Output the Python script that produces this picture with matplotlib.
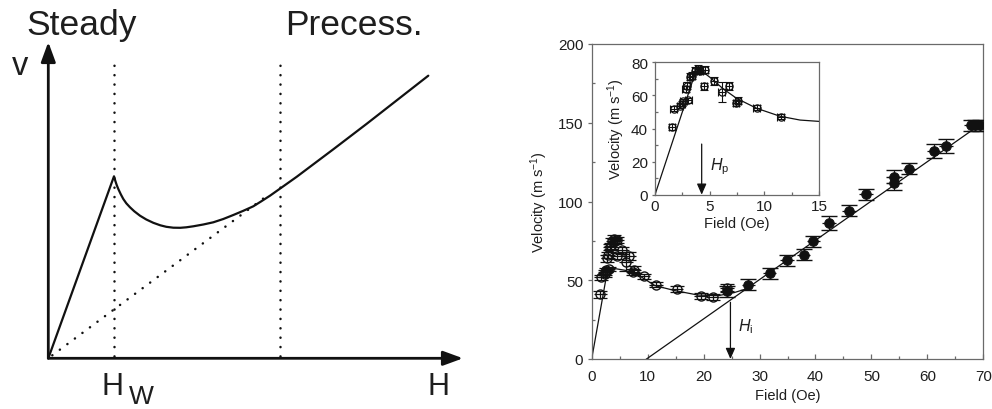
import matplotlib
matplotlib.use('Agg')
import matplotlib.pyplot as plt
from matplotlib.ticker import MultipleLocator

plt.rcParams['font.family'] = ['Liberation Sans', 'DejaVu Sans']
plt.rcParams['mathtext.fontset'] = 'custom'
plt.rcParams['mathtext.rm'] = 'Liberation Sans'
plt.rcParams['mathtext.it'] = 'Liberation Sans:italic'

# ---------------- data ----------------
# Left schematic: v(H) curve (arbitrary units)
schem_H = [0, 65.7, 67, 68.5, 70, 72.5, 75, 78, 81.7, 86, 91.7, 98, 105, 112, 118,
           125, 132, 138, 145, 155, 165, 175, 185, 195, 205, 213, 221.7, 235,
           248.4, 261.7, 285, 318.4, 351.7, 380]
schem_v = [0, 182, 177.5, 173, 169.3, 164, 159.3, 155, 151, 147.0, 142.6, 138.8, 135.5,
           133, 131.5, 130.6, 130.5, 131, 132, 133.8, 136, 139.3, 143.3, 147.5, 152,
           157, 162.6, 172, 181.5, 191.5, 209, 234.5, 260.5, 282.6]
schem_lin_H = [4, 222]          # dotted asymptote
schem_lin_v = [3, 165]
schem_Hw = 65.3                 # dotted guide at H_W
schem_Hp = 232                  # dotted guide at precession onset
schem_guide_v = [2, 297]

# Main panel: filled circles (precessional regime)
fill_x = [24.2, 28.0, 31.8, 34.9, 37.9, 39.6, 42.4, 46.0, 49.0, 54.0, 54.1,
          56.8, 61.1, 63.3, 67.8, 68.6, 69.4]
fill_y = [43.1, 47.3, 54.5, 62.7, 66.2, 74.7, 86.6, 94.2, 104.7, 111.5, 115.7,
          120.9, 132.0, 135.2, 148.5, 148.5, 148.5]
fill_yerr = [3.5, 3.5, 3.5, 3.5, 3.5, 3.5, 4.5, 3.5, 3.5, 4.0, 4.0,
             3.5, 4.5, 4.5, 3.5, 3.5, 3.5]

# Open circles (low field); the first 22 also appear in the inset
open_x = [1.55, 1.7, 2.3, 2.45, 2.6, 2.8, 2.9, 3.05, 3.2, 3.4, 3.7, 3.95, 4.1,
          4.55, 4.5, 5.4, 6.1, 6.75, 7.4, 7.6, 9.3, 11.5, 15.2, 19.5, 21.6, 24.2]
open_y = [41.0, 51.8, 53.8, 55.0, 56.5, 63.9, 65.9, 57.2, 71.3, 71.9, 74.9, 76.0, 75.0,
          75.5, 65.5, 68.9, 61.9, 65.5, 55.4, 56.8, 52.4, 47.1, 44.6, 40.0, 39.5, 45.2]
open_yerr = [2, 1.5, 1.5, 1.5, 1.5, 2, 2, 1.5, 2, 2, 2, 2.5, 2,
             2, 2, 2.5, 6, 2.5, 2, 2, 1.5, 1.5, 2, 2, 2, 2.5]
n_inset = 22
open_xerr_main = 1.2
open_xerr_inset = 0.3

# Fitted curves
main_fit_x = [0, 2.8, 4.0, 6.0, 8.9, 11.3, 14.9, 19.0, 22.6, 25.6, 27.6]
main_fit_y = [0, 56, 57.5, 56.3, 52, 46.6, 43.4, 40.6, 40.2, 42.3, 44.5]
main_line_x = [9.8, 69.5]
main_line_y = [0, 149]
inset_fit_x = [0, 3.85, 4.42, 5.03, 6.25, 7.47, 9.30, 11.44, 13.27, 15.0]
inset_fit_y = [0, 77.0, 74.0, 70.9, 63.9, 58.2, 52.2, 47.4, 45.1, 44.3]

Hi_x, Hi_top = 24.8, 36
Hp_x, Hp_top = 4.27, 30.6

spine_col = '#6a6a6a'
ink = '#111111'
txt = '#1e1e1e'

fig = plt.figure(figsize=(9.92, 4.10), dpi=100)

# ---------------- left schematic ----------------
ox, oy = 48.3, 359.3
W, Hh = 440, 352
ax0 = fig.add_axes([ox / 992, (410 - oy) / 410, W / 992, Hh / 410])
ax0.set_xlim(0, W)
ax0.set_ylim(0, Hh)
ax0.axis('off')

arrow_kw = dict(arrowstyle='-|>,head_length=0.6,head_width=0.22', lw=2.0,
                color=ink, mutation_scale=20, shrinkA=0, shrinkB=0)
ax0.annotate('', xy=(414.7, 0), xytext=(0, 0), arrowprops=arrow_kw)
ax0.annotate('', xy=(0, 316.3), xytext=(0, 0), arrowprops=arrow_kw)

ax0.plot(schem_H, schem_v, color=ink, lw=1.6, solid_joinstyle='round', solid_capstyle='round')
dot_style = dict(color=ink, lw=1.8, linestyle=(0, (0.05, 3.7)), dash_capstyle='round')
ax0.plot(schem_lin_H, schem_lin_v, **dot_style)
ax0.plot([schem_Hw, schem_Hw], schem_guide_v, **dot_style)
ax0.plot([schem_Hp, schem_Hp], schem_guide_v, **dot_style)

ax0.text(-21.6, 324.3, 'Steady', fontsize=25.5, color=txt, ha='left', va='baseline', clip_on=False)
ax0.text(236.7, 324.3, 'Precess.', fontsize=25.5, color=txt, ha='left', va='baseline', clip_on=False)
ax0.text(-36.3, 284.3, 'v', fontsize=23.5, color=txt, ha='left', va='baseline', clip_on=False)
ax0.text(378.7, -35.7, 'H', fontsize=22, color=txt, ha='left', va='baseline', clip_on=False)
ax0.text(53.7, -35.7, 'H', fontsize=22, color=txt, ha='left', va='baseline', clip_on=False)
ax0.text(81.0, -44.5, 'W', fontsize=19, color=txt, ha='left', va='baseline', clip_on=False)

# ---------------- right main panel ----------------
axm = fig.add_axes([591.7 / 992, 50 / 410, 391.6 / 992, 315 / 410])
axm.set_xlim(0, 70)
axm.set_ylim(0, 200)
for s in axm.spines.values():
    s.set_color(spine_col)
    s.set_linewidth(0.9)
axm.xaxis.set_major_locator(MultipleLocator(10))
axm.xaxis.set_minor_locator(MultipleLocator(5))
axm.yaxis.set_major_locator(MultipleLocator(50))
axm.yaxis.set_minor_locator(MultipleLocator(25))
axm.tick_params(axis='y', which='major', direction='out', length=3, width=0.9,
                color=spine_col, pad=3, labelsize=11, labelcolor=txt)
axm.tick_params(axis='y', which='minor', direction='in', length=2.5, width=0.9, color=spine_col)
axm.tick_params(axis='x', which='major', direction='in', length=3.6, width=0.9,
                color=spine_col, pad=7, labelsize=11, labelcolor=txt)
axm.tick_params(axis='x', which='minor', direction='in', length=2.2, width=0.9, color=spine_col)
axm.set_xlabel('Field (Oe)', fontsize=10.5, color=txt, labelpad=4)
axm.set_ylabel('Velocity (m s$^{-1}$)', fontsize=10.5, color=txt, labelpad=6)

axm.plot(main_fit_x, main_fit_y, color=ink, lw=0.9, zorder=2)
axm.plot(main_line_x, main_line_y, color=ink, lw=0.9, zorder=2)

axm.errorbar(open_x, open_y, yerr=open_yerr, fmt='none', ecolor=ink, elinewidth=0.9,
             capsize=5, capthick=0.9, zorder=3)
axm.errorbar(open_x, open_y, xerr=open_xerr_main, fmt='none', ecolor=ink, elinewidth=0.9,
             capsize=0, zorder=3)
axm.plot(open_x, open_y, 'o', mfc='none', mec=ink, ms=6.5, mew=1.0, zorder=4)

axm.errorbar(fill_x, fill_y, yerr=fill_yerr, fmt='none', ecolor=ink, elinewidth=0.9,
             capsize=6, capthick=1.0, zorder=3)
axm.errorbar(fill_x, fill_y, xerr=1.2, fmt='none', ecolor=ink, elinewidth=0.9,
             capsize=0, zorder=3)
axm.plot(fill_x, fill_y, 'o', mfc=ink, mec=ink, ms=6.8, mew=0.8, zorder=4)

small_arrow = dict(arrowstyle='-|>,head_length=0.5,head_width=0.22', lw=0.9,
                   color=ink, mutation_scale=13, shrinkA=0, shrinkB=0)
axm.annotate('', xy=(Hi_x, 0), xytext=(Hi_x, Hi_top), arrowprops=small_arrow)
axm.text(26.2, 21, r'$H_{\mathrm{i}}$', fontsize=11.5, color=txt, ha='left', va='center')

# ---------------- inset ----------------
axi = fig.add_axes([655 / 992, (410 - 195.7) / 410, 164 / 992, 132.4 / 410])
axi.set_zorder(5)
axi.set_facecolor('white')
axi.set_xlim(0, 15)
axi.set_ylim(0, 80)
for s in axi.spines.values():
    s.set_color(spine_col)
    s.set_linewidth(0.9)
axi.xaxis.set_major_locator(MultipleLocator(5))
axi.xaxis.set_minor_locator(MultipleLocator(2.5))
axi.yaxis.set_major_locator(MultipleLocator(20))
axi.yaxis.set_minor_locator(MultipleLocator(10))
axi.tick_params(axis='y', which='major', direction='out', length=2.5, width=0.9,
                color=spine_col, pad=2.5, labelsize=11, labelcolor=txt)
axi.tick_params(axis='y', which='minor', direction='in', length=2.2, width=0.9, color=spine_col)
axi.tick_params(axis='x', which='major', direction='in', length=3, width=0.9,
                color=spine_col, pad=3, labelsize=11, labelcolor=txt)
axi.tick_params(axis='x', which='minor', direction='in', length=2, width=0.9, color=spine_col)
axi.set_xlabel('Field (Oe)', fontsize=10.5, color=txt, labelpad=2)
axi.set_ylabel('Velocity (m s$^{-1}$)', fontsize=10.5, color=txt, labelpad=3)

ix, iy, ie = open_x[:n_inset], open_y[:n_inset], open_yerr[:n_inset]
axi.plot(inset_fit_x, inset_fit_y, color=ink, lw=0.9, zorder=2)
axi.errorbar(ix, iy, yerr=ie, xerr=open_xerr_inset, fmt='none', ecolor=ink,
             elinewidth=0.8, capsize=3, capthick=0.8, zorder=3)
axi.plot(ix, iy, 'o', mfc='none', mec=ink, ms=5.2, mew=0.9, zorder=4)
axi.annotate('', xy=(Hp_x, 0), xytext=(Hp_x, Hp_top), arrowprops=small_arrow)
axi.text(5.0, 17.5, r'$H_{\mathrm{p}}$', fontsize=11.5, color=txt, ha='left', va='center')

fig.savefig('out.png', dpi=100)
